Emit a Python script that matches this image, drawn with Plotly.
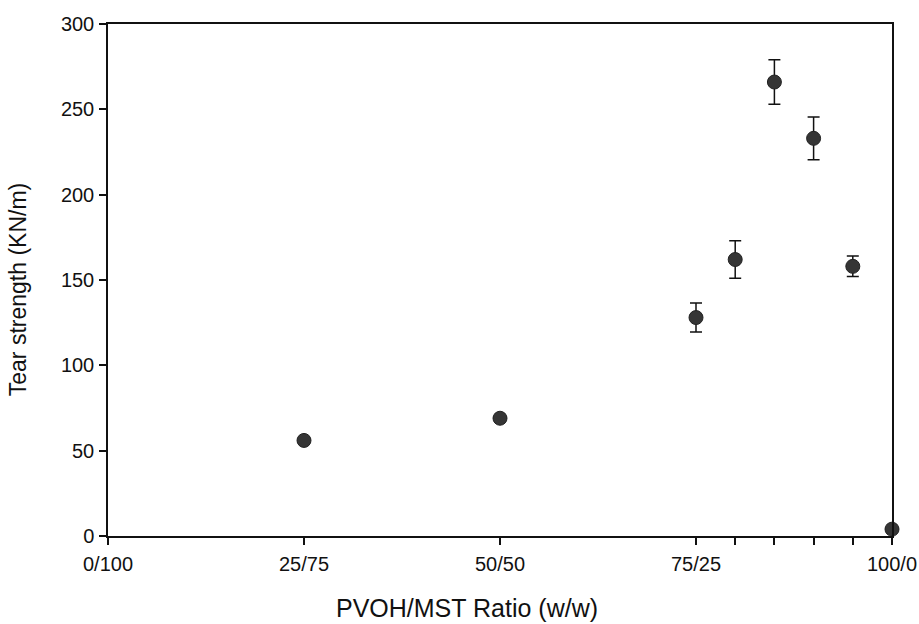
import plotly.graph_objects as go

ratio = [25, 50, 75, 80, 85, 90, 95, 100]
tear_strength = [56, 69, 128, 162, 266, 233, 158, 4]
tear_error = [0, 0, 8.5, 11, 13, 12.5, 6, 0]

tick_vals = [0, 25, 50, 75, 80, 85, 90, 95, 100]
tick_text = ["0/100", "25/75", "50/50", "75/25", "", "", "", "", "100/0"]
y_ticks = [0, 50, 100, 150, 200, 250, 300]

fig = go.Figure()
fig.add_trace(go.Scatter(
    x=ratio, y=tear_strength, mode="markers",
    marker=dict(size=14, color="#353535", line=dict(color="#222222", width=1)),
    error_y=dict(type="data", array=tear_error, visible=True, color="#111111",
                 thickness=1.5, width=6),
    cliponaxis=False, showlegend=False,
))

axis_common = dict(showline=True, linecolor="#111111", linewidth=1.5, mirror=True,
                   ticks="outside", ticklen=7, tickwidth=1.5, tickcolor="#111111",
                   showgrid=False, zeroline=False, automargin=False,
                   tickfont=dict(family="Liberation Sans, Arial", size=20, color="#111111"))

fig.update_layout(
    width=919, height=624,
    margin=dict(l=108, r=27, t=24, b=88),
    paper_bgcolor="white", plot_bgcolor="white",
    font=dict(family="Liberation Sans, Arial", color="#111111"),
    xaxis=dict(range=[0, 100], tickvals=tick_vals, ticktext=tick_text,
               ticklabelstandoff=2, **axis_common),
    yaxis=dict(range=[0, 300], tickvals=y_ticks, ticklabelstandoff=1,
               **axis_common),
    annotations=[
        dict(text="PVOH/MST Ratio (w/w)", xref="paper", yref="paper",
             x=0.458, y=-0.1406, xanchor="center", yanchor="middle",
             showarrow=False, font=dict(size=25)),
        dict(text="Tear strength (KN/m)", xref="paper", yref="paper",
             x=-0.1148, y=0.482, xanchor="center", yanchor="middle",
             textangle=-90, showarrow=False, font=dict(size=23)),
    ],
)

fig.write_html("out.html")
